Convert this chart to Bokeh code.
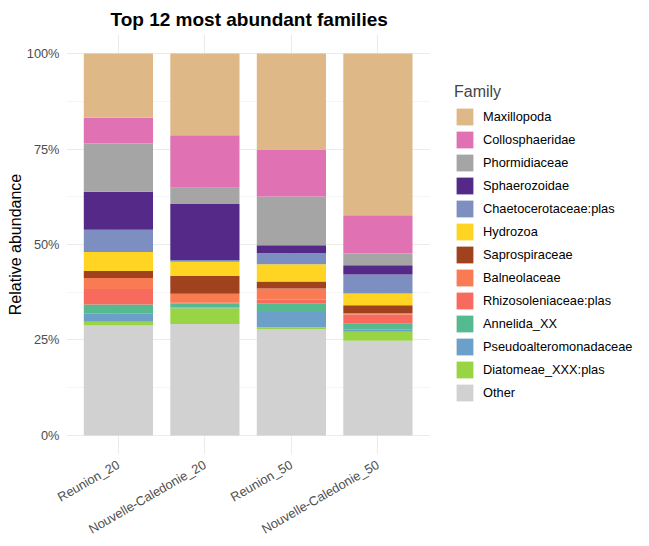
import math
from bokeh.plotting import figure
from bokeh.models import (ColumnDataSource, FixedTicker, Legend, LegendItem,
                          BoxAnnotation)
from bokeh.embed import file_html
from bokeh.resources import INLINE

# Samples on the x axis
samples = ["Reunion_20", "Nouvelle-Caledonie_20", "Reunion_50", "Nouvelle-Caledonie_50"]

# Relative abundance of each family per sample
maxillopoda = [0.168, 0.215, 0.251, 0.424]
collosphaeridae = [0.068, 0.138, 0.123, 0.100]
phormidiaceae = [0.126, 0.043, 0.128, 0.031]
sphaerozoidae = [0.100, 0.147, 0.021, 0.024]
chaetocerotaceae_plas = [0.058, 0.005, 0.029, 0.050]
hydrozoa = [0.050, 0.037, 0.045, 0.031]
saprospiraceae = [0.018, 0.047, 0.018, 0.021]
balneolaceae = [0.029, 0.024, 0.029, 0.003]
rhizosoleniaceae_plas = [0.041, 0.002, 0.010, 0.024]
annelida_xx = [0.024, 0.010, 0.023, 0.016]
pseudoalteromonadaceae = [0.021, 0.002, 0.040, 0.005]
diatomeae_xxx_plas = [0.010, 0.042, 0.005, 0.024]
other = [0.288, 0.293, 0.278, 0.248]

# Legend order (top of the stack first)
families = ["Maxillopoda", "Collosphaeridae", "Phormidiaceae", "Sphaerozoidae",
            "Chaetocerotaceae:plas", "Hydrozoa", "Saprospiraceae", "Balneolaceae",
            "Rhizosoleniaceae:plas", "Annelida_XX", "Pseudoalteromonadaceae",
            "Diatomeae_XXX:plas", "Other"]
values = [maxillopoda, collosphaeridae, phormidiaceae, sphaerozoidae,
          chaetocerotaceae_plas, hydrozoa, saprospiraceae, balneolaceae,
          rhizosoleniaceae_plas, annelida_xx, pseudoalteromonadaceae,
          diatomeae_xxx_plas, other]
colors = ["#DEB887", "#E072B4", "#A5A5A5", "#552988", "#7C8FC0", "#FFD422",
          "#A1421F", "#F97B53", "#F8695E", "#56BA91", "#6CA0C9", "#98D444",
          "#D1D1D1"]

# Normalise each sample to a total of 1 (position = fill)
totals = [sum(v[i] for v in values) for i in range(len(samples))]
data = {"x": list(range(1, len(samples) + 1))}
keys = []
for k, (fam, vals) in enumerate(zip(families, values)):
    key = f"f{k}"
    keys.append(key)
    data[key] = [vals[i] / totals[i] for i in range(len(samples))]
source = ColumnDataSource(data)

FONT = "Liberation Sans"

# Layout in pixels: the frame runs to the right edge so the legend can sit
# inside it; the panel area itself ends at x = 4.6.
W, H = 649, 546
LEFT, TOP, BOTTOM = 66, 34, 92
UNIT = 86.5                      # pixels per category step
X0 = 0.4                         # left edge of the panel in data units
x_end = X0 + (W - LEFT) / UNIT
panel_end = len(samples) + 0.6

p = figure(width=W, height=H, output_backend="svg", toolbar_location=None,
           x_range=(X0, x_end), y_range=(-0.05, 1.05),
           min_border_left=LEFT, min_border_right=0, min_border_top=TOP,
           min_border_bottom=BOTTOM, title="Top 12 most abundant families")
p.outline_line_color = None
p.background_fill_color = "white"
p.border_fill_color = "white"

# Stack from the bottom (Other) to the top (Maxillopoda)
renderers = p.vbar_stack(list(reversed(keys)), x="x", width=0.8,
                         color=list(reversed(colors)), line_width=0,
                         source=source)
renderers = list(reversed(renderers))

# Title, centred over the panel
p.title.text_font = FONT
p.title.text_font_size = "19px"
p.title.text_font_style = "bold"
p.title.align = "left"
p.title.offset = 44
p.title.text_color = "black"

# Axes
p.xaxis.ticker = FixedTicker(ticks=list(range(1, len(samples) + 1)))
p.xaxis.major_label_overrides = {i + 1: s for i, s in enumerate(samples)}
p.xaxis.major_label_orientation = math.pi / 6
p.yaxis.ticker = FixedTicker(ticks=[0, 0.25, 0.5, 0.75, 1.0],
                             minor_ticks=[0.125, 0.375, 0.625, 0.875])
p.yaxis.major_label_overrides = {0: "0%", 0.25: "25%", 0.5: "50%",
                                 0.75: "75%", 1.0: "100%", 1: "100%"}
p.yaxis.axis_label = "Relative abundance"
for ax in (p.xaxis, p.yaxis):
    ax.axis_line_color = None
    ax.major_tick_line_color = None
    ax.minor_tick_line_color = None
    ax.major_tick_in = 0
    ax.major_tick_out = 0
    ax.minor_tick_in = 0
    ax.minor_tick_out = 0
    ax.major_label_text_font = FONT
    ax.major_label_text_font_size = "12.8px"
    ax.major_label_text_color = "#4D4D4D"
    ax.axis_label_text_font = FONT
    ax.axis_label_text_font_size = "16px"
    ax.axis_label_text_font_style = "normal"
    ax.axis_label_text_color = "black"
p.xaxis.major_label_standoff = 9
p.yaxis.major_label_standoff = 7
p.yaxis.axis_label_standoff = 0

# Grid
p.xgrid.grid_line_color = "#EBEBEB"
p.xgrid.grid_line_width = 1.1
p.ygrid.grid_line_color = "#EBEBEB"
p.ygrid.grid_line_width = 1.1
p.ygrid.minor_grid_line_color = "#F2F2F2"
p.ygrid.minor_grid_line_width = 0.8
p.xgrid.level = "underlay"
p.ygrid.level = "underlay"

# Blank the grid to the right of the panel, where the legend sits
p.add_layout(BoxAnnotation(left=panel_end, fill_color="white", fill_alpha=1.0,
                           line_alpha=0, level="underlay"))

# Legend (location = bottom-left corner, pixels from the frame's bottom-left)
items = [LegendItem(label=fam, renderers=[r]) for fam, r in zip(families, renderers)]
legend = Legend(items=items, location=(454 - LEFT, 51), title="Family",
                orientation="vertical")
legend.title_text_font = FONT
legend.title_text_font_size = "16px"
legend.title_text_font_style = "normal"
legend.title_standoff = 5
legend.label_text_font = FONT
legend.label_text_font_size = "12.8px"
legend.label_text_color = "black"
legend.label_standoff = 8
legend.glyph_width = 21
legend.glyph_height = 21
legend.spacing = 2
legend.padding = 0
legend.margin = 0
legend.border_line_color = None
legend.background_fill_alpha = 0
p.add_layout(legend, "center")

open("out.html", "w").write(file_html(p, INLINE))
